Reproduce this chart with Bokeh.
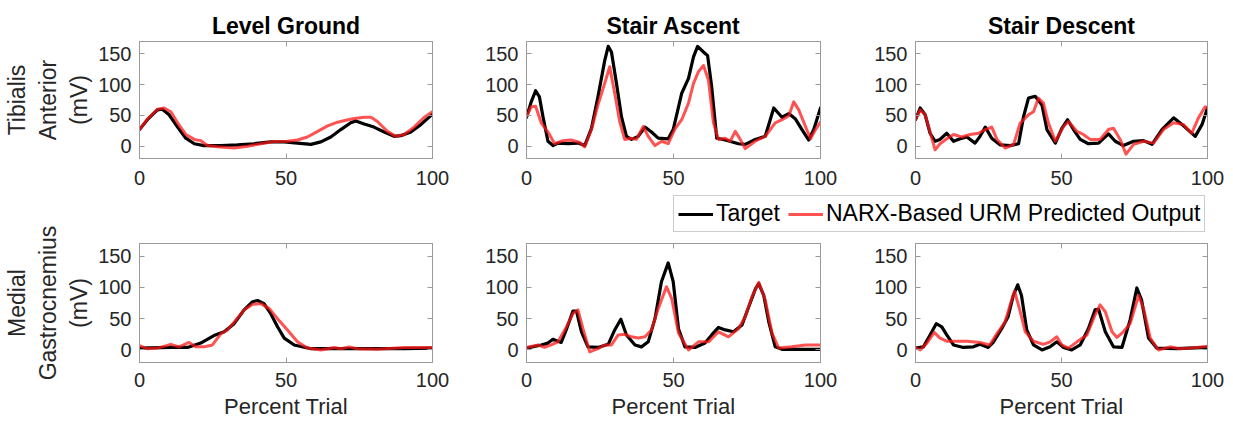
from bokeh.plotting import figure
from bokeh.layouts import column, row
from bokeh.models import Range1d, LinearAxis, FixedTicker, Legend, LegendItem
from bokeh.embed import file_html
from bokeh.resources import INLINE

# ---------------- data ----------------
titles = ["Level Ground", "Stair Ascent", "Stair Descent"]
row_labels = ["Tibialis\nAnterior\n(mV)", "Medial\nGastrocnemius\n(mV)"]
x_label = "Percent Trial"
x_ticks = [0, 50, 100]
y_ticks = [0, 50, 100, 150]
series_names = ["Target", "NARX-Based URM Predicted Output"]

# Tibialis Anterior - Level Ground
lg_ta_tgt_x = [0, 2.7, 6.1, 7.8, 10.1, 13, 15.8, 18.7, 22, 27.8, 33.4, 39, 44.8, 49.4, 53.9, 58.5, 61.9,
               65.3, 68.7, 72.1, 73.8, 76.7, 80, 83.5, 86.9, 89.2, 92.6, 96, 100]
lg_ta_tgt = [27, 43, 59, 60, 51, 31, 13, 4, 1, 1, 2, 4, 7, 7, 5, 3, 7, 15, 27, 38, 41, 36, 31, 23, 16, 17,
             23, 35, 52]
lg_ta_pred_x = [0, 2.7, 6.1, 8.4, 10.7, 13, 15.8, 18.7, 20.9, 23.2, 26.6, 32.3, 36.9, 41.4, 46, 50.5, 53.9,
                57.3, 60.8, 64.2, 67.6, 70.4, 73.3, 76.7, 79, 81.2, 84.6, 87.5, 90.3, 93.7, 97.2, 100]
lg_ta_pred = [27, 44, 60, 62, 56, 38, 19, 11, 9, 1, -1, -3, 0, 4, 7.5, 8, 10, 15, 24, 33, 39, 42, 45, 47, 47,
              40, 24, 16, 19, 31, 47, 56]

# Tibialis Anterior - Stair Ascent
sa_ta_tgt_x = [0, 1.6, 3.1, 4.4, 5.6, 7.3, 9, 10.7, 14.1, 17.5, 19.8, 22.1, 24.3, 26.6, 27.8, 28.9, 30.6,
               32.3, 34, 35.7, 38, 40.3, 42.5, 44.8, 48.2, 49.9, 52.8, 55.1, 56.8, 58.2, 60.2, 61.6, 63,
               64.7, 67.6, 72.1, 74.4, 77.8, 81.2, 82.9, 84.1, 86.9, 89.2, 91.5, 93.7, 96, 97.7, 100]
sa_ta_tgt = [47, 72, 90, 80, 48, 8, 1, 5, 4, 5, 1, 29, 80, 139, 162, 153, 102, 48, 16, 11, 16, 31, 23, 13,
             12, 27, 86, 110, 145, 162, 153, 147, 96, 13, 10, 4, 3, 11, 16, 43, 62, 47, 53, 44, 27, 10, 27, 62]
sa_ta_pred_x = [0, 1.6, 3.1, 5, 7.3, 9.6, 12.4, 15.2, 18.1, 19.8, 22.1, 24.3, 26.6, 28.3, 30, 31.7, 33.4,
                35.7, 37.4, 39.7, 41.4, 43.7, 46, 48.2, 50.5, 52.8, 55.1, 56.8, 58.5, 60.2, 61.9, 63.6,
                65.3, 67.6, 69.3, 71, 72.7, 74.4, 77.8, 81.2, 84.6, 86.9, 89.2, 90.9, 92.6, 94.9, 96.6,
                98.3, 100]
sa_ta_pred = [48, 64, 65, 38, 23, 4, 9, 10, 6, -1, 27, 67, 102, 129, 86, 40, 11, 13, 11, 32, 16, 1, 8, 4,
              28, 43, 70, 102, 121, 131, 107, 38, 11, 13, 8, 24, 11, -4, 8, 16, 38, 43, 49, 72, 59, 32,
              12, 27, 39]

# Tibialis Anterior - Stair Descent
sd_ta_tgt_x = [0, 1.6, 3.3, 5, 6.7, 8.4, 10.7, 13, 15.3, 17.6, 20.4, 22.1, 23.9, 26.1, 29, 32.4, 35.3, 37,
               38.7, 41, 43.3, 45, 47.9, 50.1, 52.1, 54.1, 56.4, 59.2, 62.7, 66.1, 68.4, 71.2, 74.7, 78.1,
               81, 84.4, 88.4, 91.8, 95.8, 98.1, 100]
sd_ta_tgt = [43, 62, 51, 21, 8, 11, 21, 8, 12, 15, 5, 16, 31, 13, 2, 1, 4, 48, 78, 81, 67, 27, 5, 29, 43,
             27, 11, 4, 5, 20, 8, 1, 8, 9, 3, 27, 46, 33, 16, 35, 62]
sd_ta_pred_x = [0, 1.6, 3.3, 5.6, 6.7, 8.4, 10.7, 13, 15.9, 18.7, 21.6, 23.9, 26.1, 27.9, 30.7, 33.6, 35.8,
                38.7, 40.4, 42.1, 43.8, 45.5, 47.9, 50.7, 52.4, 55.3, 57.5, 59.8, 63.2, 66.1, 67.8, 70.1,
                72.1, 74.7, 78.1, 81.5, 84.9, 88.4, 91.8, 94.6, 96.9, 99.2, 100]
sd_ta_pred = [43, 59, 51, 13, -6, 4, 12, 19, 15, 19, 21, 27, 31, 11, -3, 3, 37, 51, 56, 78, 70, 38, 8, 32,
              40, 24, 19, 11, 11, 27, 29, 11, -13, 3, 8, 5, 27, 38, 35, 21, 46, 64, 62]

# Medial Gastrocnemius - Level Ground
lg_mg_tgt_x = [0, 10.7, 16.4, 20.9, 25.4, 28.9, 32.3, 35.7, 38.6, 40.3, 42.5, 44.8, 47.1, 49.4, 52.8, 58.5,
               67.6, 78.9, 90.3, 100]
lg_mg_tgt = [3, 4, 4, 11, 23, 29, 42, 64, 77, 79, 74, 58, 37, 19, 8, 2, 2, 2, 2, 3]
lg_mg_pred_x = [0, 2.7, 6.1, 10.7, 13.5, 16.9, 19.2, 22, 24.9, 27.8, 30, 32.9, 35.7, 38.6, 41.4, 44.3, 47.1,
                50.5, 53.9, 57.3, 61.9, 66.4, 68.7, 71.5, 74.4, 81.2, 90.3, 100]
lg_mg_pred = [7, 2, 3, 9, 5, 12, 5, 5, 8, 26, 32, 48, 64, 73, 74, 66, 50, 32, 13, 3, 0, 4, 2, 5, 2, 1, 4, 4]

# Medial Gastrocnemius - Stair Ascent
sa_mg_tgt_x = [0, 5, 7.3, 9, 10.7, 11.8, 13.5, 15.8, 17, 18.7, 20.9, 24.3, 27.8, 30, 32.1, 34, 36.9, 39.1,
               41.4, 43.7, 45.9, 48.2, 49.9, 51.7, 53.9, 57.3, 60.7, 63, 65.3, 67.6, 70.4, 73.3, 75.6, 77.9,
               79, 80.7, 82.4, 84.6, 86.9, 100]
sa_mg_tgt = [3, 8, 11, 17, 14, 12, 32, 62, 62, 29, 5, 4, 9, 32, 49, 24, 8, 5, 13, 50, 109, 139, 109, 34, 5,
             4, 11, 24, 36, 32, 29, 40, 69, 98, 106, 87, 45, 5, 1, 1]
sa_mg_pred_x = [0, 3.9, 6.1, 8.4, 10.7, 13.5, 15.8, 17.5, 19.2, 21.5, 24.3, 26.6, 28.9, 31.2, 33.4, 35.7, 38,
                40.3, 42.5, 44.8, 47.6, 49.4, 51.7, 55.1, 58.5, 61.9, 65.3, 68.7, 72.1, 74.4, 76.7, 79,
                81.2, 83.5, 85.8, 90.3, 94.9, 100]
sa_mg_pred = [4, 8, 4, 8, 13, 36, 58, 64, 34, -3, 2, 8, 8, 24, 25, 21, 19, 21, 32, 66, 101, 82, 27, 0, 13,
              13, 29, 21, 34, 53, 85, 108, 80, 27, 3, 5, 8, 8]

# Medial Gastrocnemius - Stair Descent
sd_mg_tgt_x = [0, 2.7, 5, 7.1, 9, 10.7, 13, 16.4, 19.8, 22.1, 24.9, 26.6, 29.5, 31.7, 33.5, 35, 36.3, 38.1,
               40.4, 43.3, 46.1, 48.4, 50.7, 53.5, 56.4, 59.2, 61.5, 62.7, 65, 67.8, 70.7, 73.5, 75.8, 77.4,
               79.8, 82.6, 89.5, 100]
sd_mg_tgt = [3, 5, 24, 42, 37, 24, 8, 4, 5, 9, 4, 12, 34, 53, 87, 104, 87, 32, 8, 0, 5, 13, 4, 0, 8, 34, 64,
             65, 29, 5, 4, 48, 99, 80, 19, 3, 2, 4]
sd_mg_pred_x = [0, 1.6, 3.9, 6.4, 8.4, 10.7, 14.1, 17.6, 22.1, 25.4, 27.9, 30.7, 32.4, 33.9, 35.6, 37.6,
                40.4, 43.8, 46.1, 48.4, 50.1, 52.4, 55.3, 58.7, 61.5, 63.2, 65, 67.3, 69, 71.2, 73.5, 76.4,
                78.1, 80.4, 83.2, 87.2, 90.6, 96.3, 100]
sd_mg_pred = [4, 0, 11, 28, 19, 14, 14, 14, 12, 8, 26, 45, 72, 94, 66, 29, 14, 9, 13, 21, 8, 3, 13, 24, 56,
              72, 61, 29, 20, 29, 42, 87, 66, 19, 0, 5, 2, 4, 6]

panels = [
    [(lg_ta_tgt_x, lg_ta_tgt, lg_ta_pred_x, lg_ta_pred),
     (sa_ta_tgt_x, sa_ta_tgt, sa_ta_pred_x, sa_ta_pred),
     (sd_ta_tgt_x, sd_ta_tgt, sd_ta_pred_x, sd_ta_pred)],
    [(lg_mg_tgt_x, lg_mg_tgt, lg_mg_pred_x, lg_mg_pred),
     (sa_mg_tgt_x, sa_mg_tgt, sa_mg_pred_x, sa_mg_pred),
     (sd_mg_tgt_x, sd_mg_tgt, sd_mg_pred_x, sd_mg_pred)],
]

# ---------------- styling ----------------
FONT = "Liberation Sans"
AX = "#9a9a9a"
TXT = "#262626"
TGT_COLOR = "#000000"
PRED_COLOR = "#ff1a1a"

col_w = [470, 390, 370]
col_bl = [139, 56, 55]
col_br = [38, 40, 23]
# (height, top border, bottom border) per figure
top_geom = (194, 41, 36)
bot_geom_first = (229, 49, 61)
bot_geom = (189, 9, 61)
leg_h = 40


def style_axis(ax, labels=True):
    ax.axis_line_color = AX
    ax.major_tick_line_color = AX
    ax.minor_tick_line_color = None
    ax.major_tick_in = 5
    ax.major_tick_out = 0
    if labels:
        ax.major_label_text_font = FONT
        ax.major_label_text_font_size = "20px"
        ax.major_label_text_color = TXT
    else:
        ax.major_label_text_font_size = "1px"
        ax.major_label_text_color = None
        ax.major_label_standoff = 0


def make_panel(r, c):
    if r == 0:
        h, bt, bb = top_geom
    else:
        h, bt, bb = bot_geom_first if c == 0 else bot_geom
    kw = dict(width=col_w[c], height=h, x_range=Range1d(0, 100), y_range=Range1d(-20, 170),
              output_backend="svg", toolbar_location=None,
              min_border_left=col_bl[c], min_border_right=col_br[c],
              min_border_top=bt, min_border_bottom=bb)
    if r == 0:
        p = figure(title=titles[c], **kw)
        p.title.align = "center"
        p.title.text_font = FONT
        p.title.text_font_size = "23px"
        p.title.text_font_style = "bold"
        p.title.text_color = "#000000"
        p.title.standoff = 6
    else:
        p = figure(title_location=None, **kw)
    p.xgrid.visible = False
    p.ygrid.visible = False
    p.outline_line_color = AX
    p.background_fill_color = "white"
    p.border_fill_color = "white"
    p.xaxis.ticker = FixedTicker(ticks=x_ticks)
    p.yaxis.ticker = FixedTicker(ticks=y_ticks)
    style_axis(p.xaxis[0])
    style_axis(p.yaxis[0])
    p.xaxis.major_label_standoff = 12 if r == 0 else 10
    p.yaxis.major_label_standoff = 8
    if c == 0:
        p.yaxis.axis_label = row_labels[r]
        p.yaxis.axis_label_text_font = FONT
        p.yaxis.axis_label_text_font_size = "23px"
        p.yaxis.axis_label_text_font_style = "normal"
        p.yaxis.axis_label_text_color = TXT
        p.yaxis.axis_label_standoff = 3
    if r == 1:
        p.xaxis.axis_label = x_label
        p.xaxis.axis_label_text_font = FONT
        p.xaxis.axis_label_text_font_size = "22px"
        p.xaxis.axis_label_text_font_style = "normal"
        p.xaxis.axis_label_text_color = TXT
        p.xaxis.axis_label_standoff = 4
    ra = LinearAxis(ticker=FixedTicker(ticks=y_ticks))
    style_axis(ra, labels=False)
    p.add_layout(ra, "right")
    ta = LinearAxis(ticker=FixedTicker(ticks=x_ticks))
    style_axis(ta, labels=False)
    p.add_layout(ta, "above")

    tx, ty, px, py = panels[r][c]
    p.line(tx, ty, line_color=TGT_COLOR, line_width=3.2, line_join="round", line_cap="round")
    p.line(px, py, line_color=PRED_COLOR, line_alpha=0.75, line_width=3, line_join="round",
           line_cap="round")
    return p


top = [make_panel(0, c) for c in range(3)]
bottom = [make_panel(1, c) for c in range(3)]

# legend strip (spans columns 2 and 3)
leg = figure(width=col_w[1] + col_w[2], height=leg_h, x_range=Range1d(0, 1), y_range=Range1d(0, 1),
             output_backend="svg", toolbar_location=None, title_location=None,
             x_axis_location=None, y_axis_location=None,
             min_border_left=0, min_border_right=0, min_border_top=0, min_border_bottom=0)
leg.outline_line_color = None
leg.grid.visible = False
# off-range samples so the legend has a glyph to draw; they fall outside the visible range
r_t = leg.line(x=[-2, -1], y=[-2, -2], line_color=TGT_COLOR, line_width=3)
r_p = leg.line(x=[-2, -1], y=[-2, -2], line_color=PRED_COLOR, line_alpha=0.75, line_width=3)
legend = Legend(items=[LegendItem(label=series_names[0], renderers=[r_t]),
                       LegendItem(label=series_names[1], renderers=[r_p])],
                location=(203, 2), orientation="horizontal",
                label_text_font=FONT, label_text_font_size="23px", label_text_color="#000000",
                glyph_width=35, glyph_height=26, label_height=26, label_standoff=3,
                spacing=8, padding=4, margin=0,
                border_line_color=AX, border_line_width=1, background_fill_color="white",
                background_fill_alpha=1)
leg.add_layout(legend)

layout = row(
    column(top[0], bottom[0]),
    column(row(top[1], top[2]), leg, row(bottom[1], bottom[2])),
)

open("out.html", "w").write(file_html(layout, INLINE))
